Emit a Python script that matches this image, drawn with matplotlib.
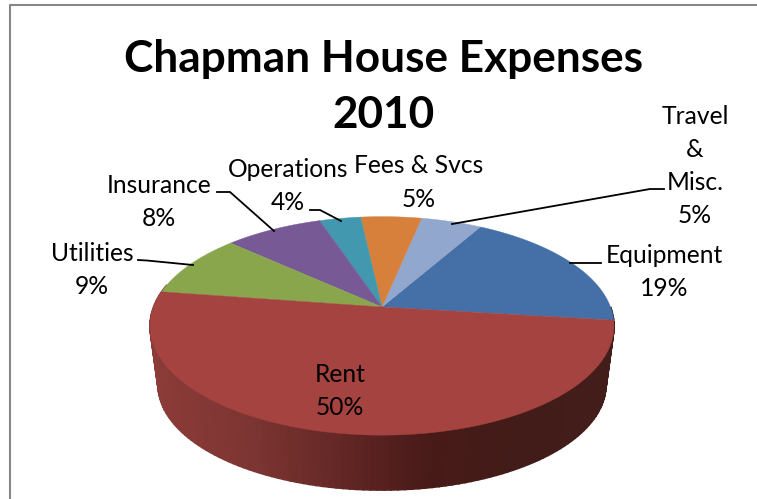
import matplotlib
matplotlib.use("Agg")
import matplotlib.pyplot as plt
import numpy as np
from matplotlib.colors import LinearSegmentedColormap

categorias = ["Equipment", "Travel &\nMisc.", "Fees & Svcs", "Operations", "Insurance", "Utilities", "Rent"]
valores = [18.7, 5, 5, 3.4, 8.1, 9.4, 50.4]
colores = ["#4470A7", "#91A7CE", "#D7803B", "#4198AF", "#775A95", "#8AA64D", "#A54340"]
titulo = "Chapman House Expenses\n2010"

plt.rcParams["font.family"] = ["Lato", "DejaVu Sans"]

# pie geometry in pixels, the ellipse is a circle seen in perspective
cx, cy = 382, 307
a, b, k = 228.5, 106, 0.173
inicio = -7

def borde(theta):
    t = np.radians(theta)
    w = 1 + k * np.sin(t)
    return cx + a * np.cos(t) / w, cy - b * np.sin(t) / w

def borde_bajo(theta):
    x, y = borde(theta)
    return cx + (x - cx) * 0.965, cy + (y - cy) * 0.96 + 60

fig = plt.figure(figsize=(7.57, 4.99), dpi=100)
ax = fig.add_axes([0, 0, 1, 1])
ax.set_xlim(0, 757)
ax.set_ylim(499, 0)
ax.axis("off")

# chart frame
ax.plot([10, 10, 757], [499, 5, 5], color="#868686", lw=1.5)

angulos = inicio + np.cumsum([0] + valores) * 3.6

# side wall of the rent slice
degradado = LinearSegmentedColormap.from_list("pared", ["#8C3B38", "#7E3633", "#652826", "#481A18", "#421C18", "#431D19"])
pasos = np.linspace(angulos[-2] - 360 - 4, inicio + 7, 130)
for t0, t1 in zip(pasos[:-1], pasos[1:]):
    x0, y0 = borde(t0)
    x1, y1 = borde(t1)
    x2, y2 = borde_bajo(t1)
    x3, y3 = borde_bajo(t0)
    c = degradado(((x0 + x1) / 2 - 150) / 464)
    ax.fill([x0, x1, x2, x3], [y0, y1, y2, y3], color=c, lw=1.2)

# top face
for i, col in enumerate(colores):
    ts = np.linspace(angulos[i], angulos[i + 1], 80)
    xs, ys = borde(ts)
    ax.fill(np.r_[cx, xs], np.r_[cy, ys], color=col, lw=0.3)

# labels
ax.text(384, 87, titulo, ha="center", va="center", fontsize=31.8, fontweight="bold", linespacing=1.51)
txt = dict(ha="center", va="center", fontsize=17.7, color="black", linespacing=1.54)
ax.text(664, 272, "Equipment\n19%", **txt)
ax.text(695, 166, "Travel\n&\nMisc.\n5%", **txt)
ax.text(419, 182.5, "Fees & Svcs\n5%", **txt)
ax.text(288, 186, "Operations\n4%", **txt)
ax.text(159, 202, "Insurance\n8%", **txt)
ax.text(92, 270, "Utilities\n9%", **txt)
ax.text(340, 391, "Rent\n50%", **txt)

# leader lines
for xs, ys in [([601, 570], [263, 263]),
               ([664, 650, 452], [189, 189, 224]),
               ([310, 320, 341], [210, 210, 221]),
               ([217, 230, 274], [192, 192, 231]),
               ([138, 147, 193], [260, 260.5, 265])]:
    ax.plot(xs, ys, color="black", lw=1.3)

fig.savefig("out.png", dpi=100)
